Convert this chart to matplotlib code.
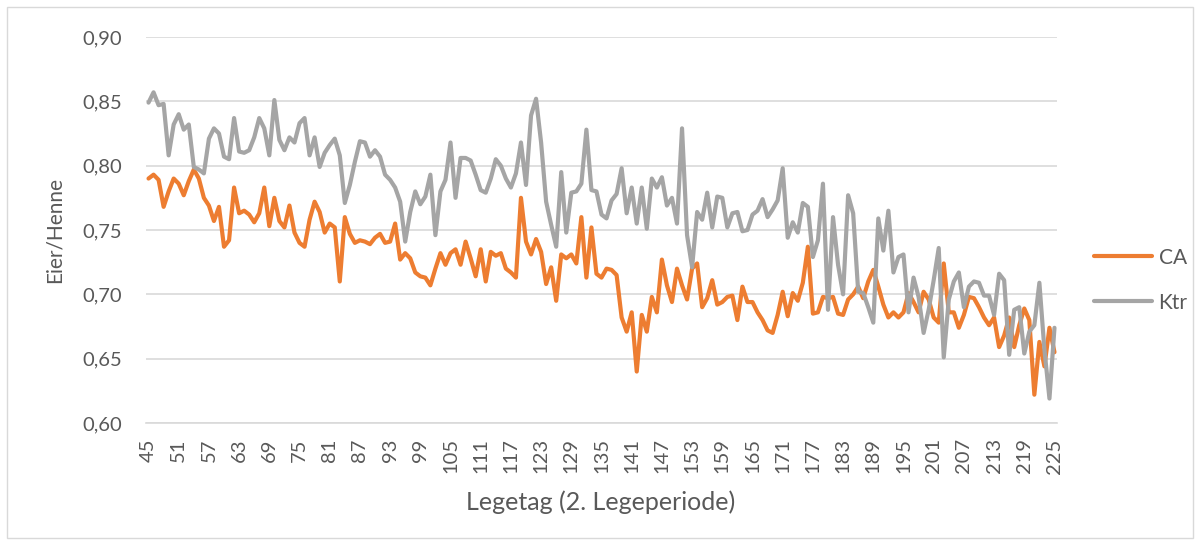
import numpy as np
import matplotlib
matplotlib.use('Agg')
import matplotlib.pyplot as plt
from matplotlib.patches import Rectangle

# Legetag 45..225
days = list(range(45, 226))

ca = [0.790, 0.793, 0.789, 0.768, 0.780, 0.790, 0.786, 0.777, 0.788, 0.797,
      0.790, 0.775, 0.769, 0.757, 0.768, 0.737, 0.742, 0.783, 0.763, 0.765,
      0.762, 0.756, 0.763, 0.783, 0.753, 0.775, 0.757, 0.752, 0.769, 0.748,
      0.740, 0.737, 0.758, 0.772, 0.764, 0.748, 0.755, 0.752, 0.710, 0.760,
      0.747, 0.740, 0.742, 0.741, 0.739, 0.744, 0.747, 0.740, 0.741, 0.755,
      0.727, 0.732, 0.728, 0.717, 0.714, 0.713, 0.707, 0.720, 0.732, 0.723,
      0.732, 0.735, 0.723, 0.741, 0.728, 0.714, 0.735, 0.710, 0.733, 0.730,
      0.732, 0.720, 0.717, 0.713, 0.775, 0.741, 0.731, 0.743, 0.733, 0.708,
      0.721, 0.695, 0.731, 0.728, 0.731, 0.724, 0.760, 0.713, 0.752, 0.716,
      0.713, 0.720, 0.719, 0.715, 0.682, 0.671, 0.686, 0.640, 0.684, 0.671,
      0.698, 0.686, 0.727, 0.707, 0.694, 0.720, 0.707, 0.696, 0.720, 0.724,
      0.690, 0.697, 0.711, 0.692, 0.694, 0.698, 0.699, 0.680, 0.706, 0.694,
      0.694, 0.686, 0.680, 0.672, 0.670, 0.684, 0.702, 0.683, 0.701, 0.695,
      0.709, 0.737, 0.685, 0.686, 0.698, 0.697, 0.698, 0.685, 0.684, 0.696,
      0.700, 0.706, 0.697, 0.710, 0.719, 0.706, 0.692, 0.682, 0.686, 0.682,
      0.686, 0.701, 0.694, 0.686, 0.702, 0.696, 0.682, 0.678, 0.724, 0.686,
      0.686, 0.674, 0.684, 0.698, 0.697, 0.690, 0.682, 0.676, 0.682, 0.659,
      0.668, 0.682, 0.659, 0.676, 0.689, 0.680, 0.622, 0.663, 0.644, 0.674,
      0.655]

ktr = [0.849, 0.857, 0.847, 0.848, 0.808, 0.832, 0.840, 0.828, 0.832, 0.799,
       0.797, 0.794, 0.821, 0.829, 0.825, 0.807, 0.805, 0.837, 0.811, 0.810,
       0.812, 0.822, 0.837, 0.829, 0.808, 0.851, 0.820, 0.812, 0.822, 0.818,
       0.833, 0.837, 0.808, 0.822, 0.799, 0.810, 0.816, 0.821, 0.808, 0.771,
       0.785, 0.803, 0.819, 0.818, 0.807, 0.812, 0.807, 0.793, 0.789, 0.783,
       0.772, 0.741, 0.764, 0.780, 0.770, 0.776, 0.793, 0.746, 0.780, 0.789,
       0.818, 0.775, 0.806, 0.806, 0.804, 0.793, 0.781, 0.779, 0.790, 0.805,
       0.800, 0.790, 0.783, 0.794, 0.818, 0.785, 0.839, 0.852, 0.818, 0.772,
       0.754, 0.737, 0.795, 0.748, 0.779, 0.780, 0.786, 0.828, 0.781, 0.780,
       0.762, 0.759, 0.773, 0.778, 0.798, 0.763, 0.783, 0.755, 0.783, 0.751,
       0.790, 0.783, 0.791, 0.769, 0.775, 0.755, 0.829, 0.746, 0.721, 0.764,
       0.758, 0.779, 0.752, 0.776, 0.775, 0.752, 0.763, 0.764, 0.749, 0.750,
       0.762, 0.765, 0.774, 0.760, 0.766, 0.773, 0.798, 0.744, 0.756, 0.748,
       0.771, 0.768, 0.729, 0.742, 0.786, 0.688, 0.760, 0.723, 0.700, 0.777,
       0.763, 0.702, 0.701, 0.690, 0.678, 0.759, 0.734, 0.765, 0.717, 0.729,
       0.731, 0.686, 0.713, 0.698, 0.670, 0.688, 0.711, 0.736, 0.651, 0.696,
       0.710, 0.717, 0.690, 0.706, 0.710, 0.709, 0.699, 0.699, 0.684, 0.716,
       0.711, 0.653, 0.688, 0.690, 0.654, 0.671, 0.676, 0.709, 0.657, 0.619,
       0.674]

yticks = [0.60, 0.65, 0.70, 0.75, 0.80, 0.85, 0.90]
xticks = days[::6]

txt = '#595959'
plt.rcParams['font.family'] = ['Lato', 'DejaVu Sans']

fig = plt.figure(figsize=(12, 5.45), dpi=100)
ax = fig.add_axes([146/1200, 1 - 423/545, (1057 - 146)/1200, (423 - 37)/545])

ax.plot(days, ca, color='#ED7D31', lw=3, label='CA', solid_joinstyle='round', solid_capstyle='round')
ax.plot(days, ktr, color='#A5A5A5', lw=3, label='Ktr', solid_joinstyle='round', solid_capstyle='round')

ax.set_xlim(44.5, 225.5)
ax.set_ylim(0.60, 0.90)
ax.set_yticks(yticks)
ax.set_yticklabels([('%.2f' % v).replace('.', ',') for v in yticks])
ax.set_xticks(xticks)
ax.set_xticklabels([str(d) for d in xticks], rotation=90)
ax.tick_params(axis='both', length=0, labelsize=14.5, colors=txt)
ax.tick_params(axis='y', pad=17)
ax.tick_params(axis='x', pad=11)
ax.grid(axis='y', color='#D9D9D9', lw=1.2)
ax.set_axisbelow(True)
for s in ['top', 'right', 'left']:
    ax.spines[s].set_visible(False)
ax.spines['bottom'].set_color('#D9D9D9')
ax.spines['bottom'].set_linewidth(1.2)

fig.text(55/1200, 1 - 230/545, 'Eier/Henne', rotation=90, ha='center', va='center', fontsize=15, color=txt)
fig.text(601/1200, 1 - 502/545, 'Legetag (2. Legeperiode)', ha='center', va='center', fontsize=18, color=txt)

leg = ax.legend(loc='center left', bbox_to_anchor=(1.02, 0.37), frameon=False, fontsize=15,
                handlelength=2.8, handletextpad=0.3, labelspacing=1.2)
for t in leg.get_texts():
    t.set_color(txt)

fig.patches.append(Rectangle((7/1200, 1 - 538/545), 1186/1200, 531/545, transform=fig.transFigure,
                             fill=False, edgecolor='#D9D9D9', lw=1))

plt.savefig('out.png', dpi=100)
